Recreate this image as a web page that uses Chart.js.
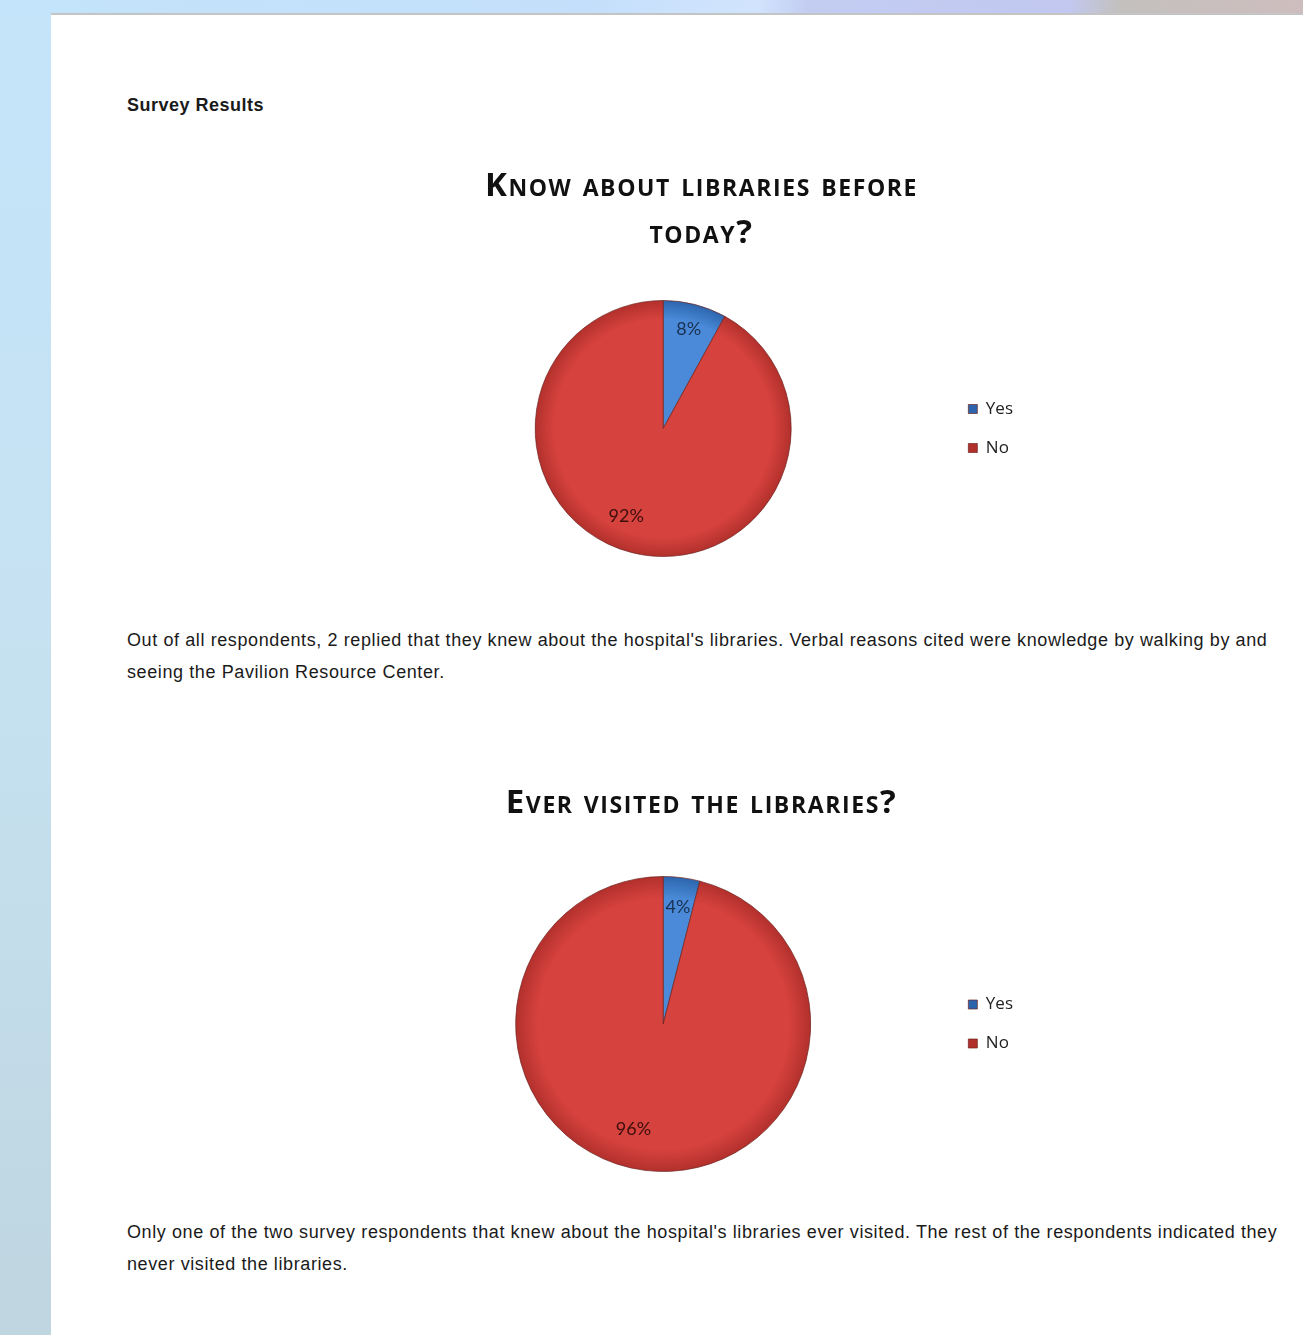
<!DOCTYPE html>
<html>
<head>
<meta charset="utf-8">
<script src="https://cdn.jsdelivr.net/npm/chart.js@4.4.1/dist/chart.umd.min.js"></script>
<style>
  html, body { margin: 0; padding: 0; }
  body {
    width: 1303px; height: 1335px; overflow: hidden; position: relative;
    background: linear-gradient(180deg, #c4e4fa 0%, #c6e2f2 45%, #bfd6e0 100%);
  }
  #topband {
    position: absolute; left: 0; top: 0; width: 1303px; height: 14px;
    background: linear-gradient(90deg, #c3e4fa 0%, #c4dffb 45%, #d2e4fd 58%, #c3cdf2 62%, #c2c8f0 82%, #c3c0bd 86%, #cebdbe 100%);
  }
  #panel {
    position: absolute; left: 51px; top: 13px; right: 0; bottom: 0;
    background: #fff; border-top: 2px solid #c4c4c4;
  }
  .txt {
    position: absolute; left: 127px; font-family: "Liberation Sans", Arial, sans-serif;
    color: #1a1a1a; font-size: 18px; letter-spacing: 0.6px; line-height: 32px; width: 1160px;
  }
  #heading { top: 89px; font-weight: bold; letter-spacing: 0.5px; }
  #para1 { top: 624px; }
  #para2 { top: 1216px; }
  .chartbox { position: absolute; left: 380px; width: 643px; }
  #box1 { top: 163px; height: 400px; }
  #box2 { top: 780px; height: 396px; }
</style>
</head>
<body>
<div id="topband"></div>
<div id="panel"></div>
<div class="txt" id="heading">Survey Results</div>
<div class="txt" id="para1">Out of all respondents, 2 replied that they knew about the hospital's libraries. Verbal reasons cited were knowledge by walking by and seeing the Pavilion Resource Center.</div>
<div class="txt" id="para2">Only one of the two survey respondents that knew about the hospital's libraries ever visited. The rest of the respondents indicated they never visited the libraries.</div>
<div class="chartbox" id="box1"><canvas id="chart1"></canvas></div>
<div class="chartbox" id="box2"><canvas id="chart2"></canvas></div>
<script>
// survey answers (25 respondents)
const answers = ["Yes", "No"];
const knewBefore = [2, 23];
const everVisited = [1, 24];
const title1 = ["Know about libraries before", "today?"];
const title2 = "Ever visited the libraries?";

const sliceColors = [
  ["#4a8ad8", "#2c65ad"],
  ["#d6423d", "#b2302c"]
];
const labelColors = ["#1b3152", "#3e0e0c"];
// excel nudges the big slice label a bit past the middle of the slice
const labelTurn = [0, 0.15];
const labelDepth = [0.8, 0.74];

// radial shading like the office pie
function shade(context) {
  const chart = context.chart;
  const area = chart.chartArea;
  if (!area) return sliceColors[context.dataIndex][0];
  const cx = (area.left + area.right) / 2;
  const cy = (area.top + area.bottom) / 2;
  const r = Math.min(area.width, area.height) / 2;
  const g = chart.ctx.createRadialGradient(cx, cy, 0, cx, cy, r);
  const c = sliceColors[context.dataIndex];
  g.addColorStop(0, c[0]);
  g.addColorStop(0.85, c[0]);
  g.addColorStop(1, c[1]);
  return g;
}

/* percent labels inside the slices */
const pctLabels = {
  id: "pctLabels",
  afterDatasetsDraw(chart) {
    const ctx = chart.ctx;
    const data = chart.data.datasets[0].data;
    const total = data.reduce((a, b) => a + b, 0);
    chart.getDatasetMeta(0).data.forEach((arc, i) => {
      const mid = (arc.startAngle + arc.endAngle) / 2 + labelTurn[i];
      const x = arc.x + Math.cos(mid) * arc.outerRadius * labelDepth[i];
      const y = arc.y + Math.sin(mid) * arc.outerRadius * labelDepth[i];
      ctx.save();
      ctx.font = "18px Lato, 'Open Sans', sans-serif";
      ctx.fillStyle = labelColors[i];
      ctx.textAlign = "center";
      ctx.textBaseline = "middle";
      ctx.fillText(Math.round(data[i] / total * 100) + "%", x, y);
      ctx.restore();
    });
  }
};

/* the word-art title is spaced out a little; only the title block gets it */
const spacedTitle = {
  id: "spacedTitle",
  beforeDraw(chart) {
    const t = chart.titleBlock;
    if (!t || t._spaced) return;
    const draw = t.draw.bind(t);
    t.draw = function () {
      chart.ctx.letterSpacing = "1.6px";
      draw();
      chart.ctx.letterSpacing = "0px";
    };
    t._spaced = true;
  }
};

function makePie(id, values, title, padTitle, padBottom) {
  new Chart(document.getElementById(id), {
    type: "pie",
    data: {
      labels: answers,
      datasets: [{
        data: values,
        backgroundColor: shade,
        borderColor: "rgba(110,35,32,0.7)",
        borderWidth: 1
      }]
    },
    options: {
      responsive: true,
      maintainAspectRatio: false,
      animation: false,
      layout: { padding: { bottom: padBottom } },
      plugins: {
        title: {
          display: true,
          text: title,
          color: "#111",
          // chart.js rejects small-caps as a style, so it rides along with the weight
          font: { family: "'Open Sans', sans-serif", size: 33, weight: "small-caps bold", lineHeight: "47px" },
          padding: { top: 0, bottom: padTitle }
        },
        legend: {
          position: "right",
          fullSize: false,
          labels: {
            boxWidth: 9,
            boxHeight: 9,
            padding: 22,
            color: "#222",
            font: { family: "'Open Sans', sans-serif", size: 17 }
          }
        },
        tooltip: { enabled: false }
      }
    },
    plugins: [pctLabels, spacedTitle]
  });
}

makePie("chart1", knewBefore, title1, 43, 6);
makePie("chart2", everVisited, title2, 49, 4);
</script>
</body>
</html>
